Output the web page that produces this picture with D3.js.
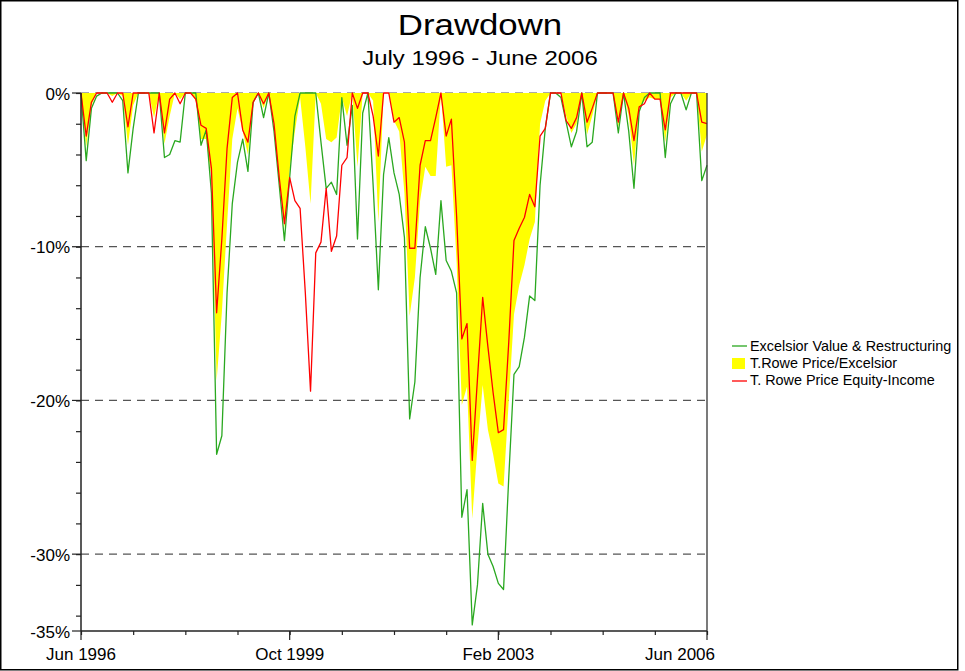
<!DOCTYPE html>
<html>
<head>
<meta charset="utf-8">
<script src="https://cdn.jsdelivr.net/npm/d3@7"></script>
<style>
  html, body { margin: 0; padding: 0; background: #fff; }
  svg { display: block; font-family: "Liberation Sans", Arial, sans-serif; }
</style>
</head>
<body>
<svg id="chart" width="965" height="671"></svg>
<script>
// ---- Data (monthly drawdown, %, Jun 1996 .. Jun 2006) ----
const monthIndex = d3.range(0, 121);

const excelsior = [
  0, -4.4, -1.0, -0.2, 0, 0, 0, 0, -0.5, -5.2,
  -2.3, 0, 0, 0, 0, 0, -4.2, -4.0, -3.1, -3.2,
  0, 0, 0, -3.4, -2.4, -6.5, -23.5, -22.3, -13.0, -7.2,
  -4.5, -3.0, -5.1, -0.6, 0, -1.6, 0, -2.5, -6.0, -9.6,
  -5.5, -1.5, 0, 0, 0, 0, -3.2, -6.2, -5.8, -6.6,
  -0.3, -3.4, -0.8, -9.5, -1.3, 0, -6.0, -12.8, -5.3, -2.9,
  -5.2, -6.6, -9.4, -21.2, -18.8, -12.0, -8.7, -10.1, -11.8, -7.0,
  -10.9, -11.6, -13.0, -27.6, -25.8, -34.6, -32.0, -26.7, -30.0, -30.8,
  -31.9, -32.3, -25.0, -18.3, -17.8, -15.9, -13.2, -13.5, -6.0, -2.3,
  0, 0, -0.3, -1.9, -3.5, -2.5, 0, -3.5, -3.2, 0,
  0, 0, 0, -2.6, 0, -2.5, -6.2, -1.2, -0.3, 0,
  0, 0, -4.2, -0.7, 0, 0, -1.1, 0, 0, -5.7,
  -4.7
];

const blend = [
  0, -3.5, -0.8, 0, 0, 0, -0.2, 0, -0.2, -3.4,
  -0.8, 0, 0, 0, -1.6, 0, -3.3, -1.5, 0, -0.4,
  0, 0, -0.5, -3.0, -3.0, -5.5, -18.7, -14.3, -8.5, -3.0,
  -1.0, -2.5, -4.0, -0.5, 0, -1.0, 0, -2.0, -5.5, -8.8,
  -5.0, -2.5, -0.3, -3.5, -7.2, 0, -0.7, -3.0, -3.2, -2.9,
  -0.3, -1.5, 0, -4.8, 0, 0, -0.5, -8.4, 0, 0,
  -1.8, -2.5, -6.5, -14.5, -12.0, -7.0, -4.8, -5.4, -5.4, 0,
  -4.8, -4.7, -11.0, -20.3, -19.1, -27.7, -23.0, -19.0, -21.9, -23.5,
  -25.4, -25.6, -20.0, -14.4, -12.5, -11.2, -9.5, -8.4, -2.0, -0.5,
  0, 0, 0, -1.5, -2.6, -2.0, 0, -2.7, -1.5, 0,
  0, 0, 0, -2.2, 0, -1.5, -4.7, -1.0, -0.5, -0.3,
  -0.4, -0.4, -3.2, -0.3, 0, 0, -0.5, 0, 0, -3.8,
  -2.7
];

const equityIncome = [
  0, -2.8, -0.6, 0, 0, 0, -0.6, 0, 0, -2.2,
  0, 0, 0, 0, -2.6, 0, -2.6, -0.4, 0, -0.7,
  0, 0, -0.4, -2.1, -2.3, -4.9, -14.3, -9.5, -3.6, -0.3,
  0, -2.4, -3.2, -0.6, 0, -0.7, 0, -2.0, -5.5, -8.5,
  -5.5, -7.0, -7.5, -13.0, -19.4, -10.4, -9.7, -6.2, -10.3, -9.3,
  -4.7, -4.2, 0, -1.0, 0, 0, -1.5, -4.1, 0, 0,
  -1.9, -1.6, -3.2, -10.1, -10.1, -4.7, -3.1, -3.1, -1.6, 0,
  -2.8, -1.7, -8.0, -16.0, -15.0, -23.9, -18.6, -13.3, -16.5, -19.5,
  -22.1, -21.9, -16.2, -9.6, -8.8, -8.1, -6.6, -7.4, -2.8, -2.3,
  0, 0, 0, -1.8, -2.3, -1.6, 0, -1.9, -1.0, 0,
  0, 0, 0, -1.9, 0, -1.0, -3.1, -0.9, -0.7, 0,
  -0.4, -0.4, -2.4, 0, 0, 0, 0, 0, 0, -1.9,
  -2.0
];

const seriesNames = ["Excelsior Value & Restructuring", "T.Rowe Price/Excelsior", "T. Rowe Price Equity-Income"];
const xTickLabels = ["Jun 1996", "Oct 1999", "Feb 2003", "Jun 2006"];
const xLabelMonths = [0, 40, 80, 120];
const yLabelValues = [0, -10, -20, -30, -35];
const gridValues = [0, -10, -20, -30];

const titleText = "Drawdown";
const subtitleText = "July 1996 - June 2006";

// ---- Layout ----
const W = 965, H = 671;
const plot = { left: 81, right: 707, top: 93, bottom: 631 };
const colors = { green: "#2aa820", yellow: "#ffff00", red: "#ff0000", axis: "#222" };

const svg = d3.select("#chart");

svg.append("rect").attr("x", 0.75).attr("y", 0.75).attr("width", 957).attr("height", 669)
  .attr("fill", "#fff").attr("stroke", "#000").attr("stroke-width", 1.5);

const x = d3.scaleLinear().domain([0, 120]).range([plot.left, plot.right]);
const y = d3.scaleLinear().domain([0, -35]).range([plot.top, plot.bottom]);

// Title
svg.append("text").attr("x", 480).attr("y", 35).attr("text-anchor", "middle")
  .attr("font-size", 30).attr("transform", "translate(480,0) scale(1.16,1) translate(-480,0)")
  .text(titleText);
svg.append("text").attr("x", 480).attr("y", 65).attr("text-anchor", "middle")
  .attr("font-size", 21).attr("transform", "translate(480,0) scale(1.14,1) translate(-480,0)")
  .text(subtitleText);

// Grid lines
svg.append("g").selectAll("line").data(gridValues).join("line")
  .attr("x1", plot.left).attr("x2", plot.right)
  .attr("y1", d => y(d)).attr("y2", d => y(d))
  .attr("stroke", "#555").attr("stroke-width", 1.2).attr("stroke-dasharray", "8,6");

// Yellow area
const area = d3.area().x((d, i) => x(i)).y0(y(0)).y1(d => y(d));
svg.append("path").datum(blend).attr("d", area).attr("fill", colors.yellow);

// Lines
const line = d3.line().x((d, i) => x(i)).y(d => y(d));
svg.append("path").datum(excelsior).attr("d", line).attr("fill", "none")
  .attr("stroke", colors.green).attr("stroke-width", 1.3).attr("stroke-linejoin", "round");
svg.append("path").datum(equityIncome).attr("d", line).attr("fill", "none")
  .attr("stroke", colors.red).attr("stroke-width", 1.3).attr("stroke-linejoin", "round");

// Axes
const yAxis = d3.axisLeft(y).tickValues(d3.range(0, -35, -2)).tickSize(5).tickFormat("");
svg.append("g").attr("transform", `translate(${plot.left},0)`).call(yAxis)
  .call(g => g.select(".domain").remove())
  .call(g => g.selectAll("line").attr("stroke", colors.axis).attr("stroke-width", 1.2));
svg.append("g").selectAll("line").data(yLabelValues).join("line")
  .attr("x1", plot.left - 9).attr("x2", plot.left).attr("y1", d => y(d)).attr("y2", d => y(d))
  .attr("stroke", colors.axis).attr("stroke-width", 1.2);
svg.append("g").selectAll("text").data(yLabelValues).join("text")
  .attr("x", plot.left - 11).attr("y", d => y(d) + 6.5).attr("text-anchor", "end")
  .attr("font-size", 17).text(d => d + "%");

const xAxis = d3.axisBottom(x).tickValues(d3.range(0, 121, 10)).tickSize(4).tickFormat("");
svg.append("g").attr("transform", `translate(0,${plot.bottom})`).call(xAxis)
  .call(g => g.select(".domain").remove())
  .call(g => g.selectAll("line").attr("stroke", colors.axis).attr("stroke-width", 1.2));
svg.append("g").selectAll("line").data(xLabelMonths).join("line")
  .attr("x1", d => x(d)).attr("x2", d => x(d)).attr("y1", plot.bottom).attr("y2", plot.bottom + 9)
  .attr("stroke", colors.axis).attr("stroke-width", 1.2);
const xl = svg.append("g").selectAll("text").data(xLabelMonths).join("text")
  .attr("x", d => x(d)).attr("y", 660).attr("text-anchor", "middle")
  .attr("font-size", 17).text((d, i) => xTickLabels[i]);
xl.each(function() {
  const w = this.getComputedTextLength();
  const cx = +this.getAttribute("x");
  if (cx + w / 2 > 715) this.setAttribute("x", 715 - w / 2);
});

// Axis frame lines
svg.append("line").attr("x1", plot.left).attr("x2", plot.left).attr("y1", plot.top).attr("y2", plot.bottom)
  .attr("stroke", colors.axis).attr("stroke-width", 1.5);
svg.append("line").attr("x1", plot.left).attr("x2", plot.right).attr("y1", plot.bottom).attr("y2", plot.bottom)
  .attr("stroke", colors.axis).attr("stroke-width", 1.5);
svg.append("line").attr("x1", plot.right).attr("x2", plot.right).attr("y1", plot.top).attr("y2", plot.bottom)
  .attr("stroke", "#333").attr("stroke-width", 1.3);

// Legend
const lg = svg.append("g").attr("font-size", 14.4);
lg.append("line").attr("x1", 732).attr("x2", 747).attr("y1", 346).attr("y2", 346)
  .attr("stroke", colors.green).attr("stroke-width", 1.3);
lg.append("rect").attr("x", 732).attr("y", 358).attr("width", 13).attr("height", 11).attr("fill", colors.yellow);
lg.append("line").attr("x1", 732).attr("x2", 747).attr("y1", 381).attr("y2", 381)
  .attr("stroke", colors.red).attr("stroke-width", 1.3);
seriesNames.forEach((n, i) => {
  lg.append("text").attr("x", 750).attr("y", 351 + i * 17).text(n);
});
</script>
</body>
</html>
